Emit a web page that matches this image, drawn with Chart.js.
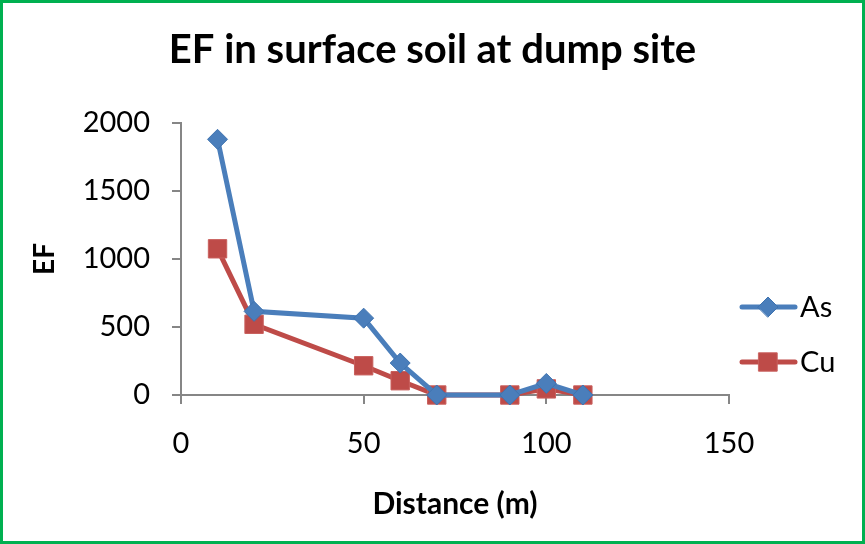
<!DOCTYPE html>
<html>
<head>
<meta charset="utf-8">
<script src="https://cdn.jsdelivr.net/npm/chart.js@4/dist/chart.umd.min.js"></script>
<style>
  html, body { margin: 0; padding: 0; background: #fff; }
  #wrap { width: 865px; height: 544px; position: relative; }
</style>
</head>
<body>
<div id="wrap"><canvas id="efChart" width="865" height="544"></canvas></div>
<script>
// distance from the dump (m) and enrichment factor per element
const distance = [10, 20, 50, 60, 70, 90, 100, 110];
const asEF = [1880, 615, 565, 235, 0, 0, 85, 0];
const cuEF = [1075, 520, 215, 105, 0, 0, 45, 0];
const xTicks = [0, 50, 100, 150];
const yTicks = [0, 500, 1000, 1500, 2000];

const FONT = "Lato, 'Open Sans', sans-serif";
const AXIS_GREY = "#868686";

function pairs(xs, ys) {
  return xs.map((x, i) => ({ x: x, y: ys[i] }));
}

// legend drawn to the right of the plot, Excel style (line through marker)
const sideLegend = {
  id: "sideLegend",
  afterDraw(chart) {
    const ctx = chart.ctx;
    const rows = [307, 362];
    chart.data.datasets.forEach((ds, i) => {
      const y = rows[i];
      ctx.save();
      ctx.strokeStyle = ds.borderColor;
      ctx.lineWidth = 5;
      ctx.lineCap = "round";
      ctx.beginPath();
      ctx.moveTo(742, y);
      ctx.lineTo(795, y);
      ctx.stroke();
      ctx.fillStyle = ds.pointBackgroundColor;
      ctx.strokeStyle = ds.pointBorderColor;
      ctx.lineWidth = 1;
      Chart.helpers.drawPoint(ctx, {
        pointStyle: ds.pointStyle,
        radius: ds.pointRadius,
        borderWidth: 1
      }, 768, y);
      ctx.fillStyle = "#000";
      ctx.font = "29px " + FONT;
      ctx.textAlign = "left";
      ctx.textBaseline = "middle";
      ctx.fillText(ds.label, 800, y + 1);
      ctx.restore();
    });
  }
};

// green frame round the whole chart
const frame = {
  id: "frame",
  afterDraw(chart) {
    const ctx = chart.ctx;
    ctx.save();
    ctx.strokeStyle = "#00b050";
    ctx.lineWidth = 3;
    ctx.strokeRect(1.5, 1.5, 862, 541);
    ctx.restore();
  }
};

const plainTick = v => String(v);

new Chart(document.getElementById("efChart"), {
  type: "scatter",
  data: {
    datasets: [
      {
        label: "As",
        data: pairs(distance, asEF),
        showLine: true,
        clip: false,
        borderColor: "#4a7ebb",
        borderWidth: 5,
        pointStyle: "rectRot",
        pointRadius: 10,
        pointHoverRadius: 10,
        pointBackgroundColor: "#4a7ebb",
        pointBorderColor: "#3f73b0",
        pointBorderWidth: 1
      },
      {
        label: "Cu",
        data: pairs(distance, cuEF),
        showLine: true,
        clip: false,
        borderColor: "#be4b48",
        borderWidth: 5,
        pointStyle: "rect",
        pointRadius: 13,
        pointHoverRadius: 13,
        pointBackgroundColor: "#be4b48",
        pointBorderColor: "#c9605d",
        pointBorderWidth: 1
      }
    ]
  },
  options: {
    responsive: false,
    animation: false,
    layout: { padding: 0 },
    plugins: {
      legend: { display: false },
      tooltip: { enabled: false },
      title: {
        display: true,
        text: "EF in surface soil at dump site",
        color: "#000",
        font: { family: FONT, size: 40, weight: "bold" },
        padding: { top: 26, bottom: 49 }
      }
    },
    scales: {
      x: {
        type: "linear",
        min: 0,
        max: 150,
        afterBuildTicks(scale) {
          scale.ticks = xTicks.map(v => ({ value: v }));
        },
        afterFit(scale) { scale.height = 149; },
        border: { color: AXIS_GREY, width: 2 },
        grid: {
          drawOnChartArea: false,
          drawTicks: true,
          tickLength: 9,
          color: AXIS_GREY,
          lineWidth: 2
        },
        ticks: {
          color: "#000",
          font: { family: FONT, size: 29 },
          padding: 22,
          maxRotation: 0,
          callback: plainTick
        },
        title: {
          display: true,
          text: "Distance (m)",
          color: "#000",
          font: { family: FONT, size: 30, weight: "bold" },
          padding: { top: 0, bottom: 22 }
        }
      },
      y: {
        type: "linear",
        min: 0,
        max: 2000,
        afterBuildTicks(scale) {
          scale.ticks = yTicks.map(v => ({ value: v }));
        },
        afterFit(scale) { scale.width = 181; },
        border: { color: AXIS_GREY, width: 2 },
        grid: {
          drawOnChartArea: false,
          drawTicks: true,
          tickLength: 9,
          color: AXIS_GREY,
          lineWidth: 2
        },
        ticks: {
          color: "#000",
          font: { family: FONT, size: 29 },
          padding: 22,
          callback: plainTick
        },
        title: {
          display: true,
          text: "EF",
          color: "#000",
          font: { family: FONT, size: 28, weight: "bold" },
          padding: { top: 28, bottom: 0 }
        }
      },
      // empty right-hand strip that holds the legend
      legendSpace: {
        type: "linear",
        position: "right",
        display: true,
        afterFit(scale) { scale.width = 136; },
        border: { display: false },
        grid: { display: false, drawTicks: false },
        ticks: { display: false }
      }
    }
  },
  plugins: [sideLegend, frame]
});
</script>
</body>
</html>
